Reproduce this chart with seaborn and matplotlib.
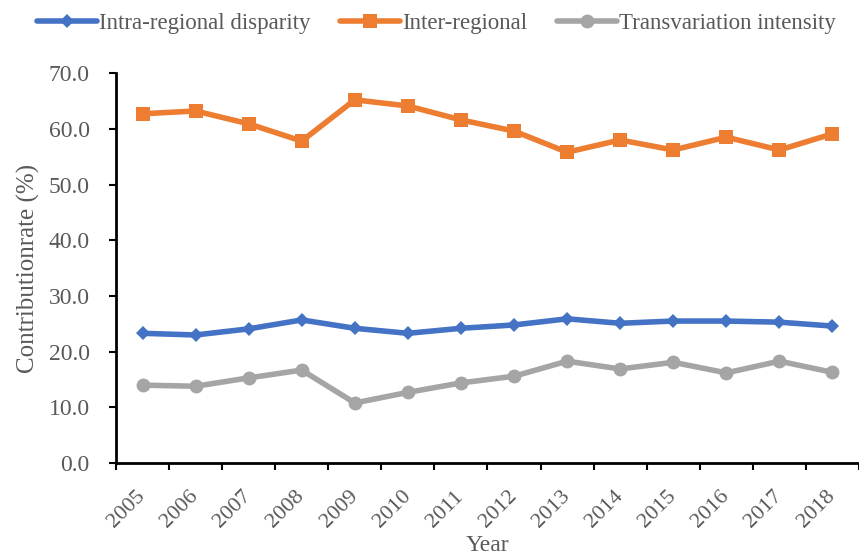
import matplotlib
matplotlib.use("Agg")
import matplotlib.pyplot as plt
import matplotlib.transforms as mtransforms
import seaborn as sns
import pandas as pd
import numpy as np

years = [2005, 2006, 2007, 2008, 2009, 2010, 2011, 2012, 2013, 2014, 2015, 2016, 2017, 2018]
intra = [23.3, 23.0, 24.1, 25.7, 24.2, 23.3, 24.2, 24.8, 25.9, 25.1, 25.5, 25.5, 25.3, 24.6]
inter = [62.7, 63.2, 60.9, 57.8, 65.2, 64.1, 61.6, 59.6, 55.8, 58.0, 56.2, 58.5, 56.2, 59.1]
trans = [14.0, 13.8, 15.3, 16.7, 10.8, 12.7, 14.4, 15.6, 18.3, 16.9, 18.1, 16.2, 18.3, 16.3]
series_names = ["Intra-regional disparity", "Inter-regional", "Transvariation intensity"]
yticks = [0, 10, 20, 30, 40, 50, 60, 70]

sns.set_style("white")
plt.rcParams['font.family'] = ['Liberation Serif', 'DejaVu Serif']

idx = list(range(len(years)))
df = pd.DataFrame({
    "idx": idx * 3,
    "value": intra + inter + trans,
    "series": [series_names[0]] * len(years) + [series_names[1]] * len(years) + [series_names[2]] * len(years),
})

fig = plt.figure(figsize=(8.59, 5.58), dpi=100)
ax = fig.add_axes([0.135, 0.170, 0.865, 0.699])

colors = ["#4472C4", "#ED7D31", "#A5A5A5"]
markers = ["D", "s", "o"]
msizes = [7, 10, 10]
for name, c, m, ms in zip(series_names, colors, markers, msizes):
    sub = df[df["series"] == name]
    sns.lineplot(data=sub, x="idx", y="value", ax=ax, color=c, linewidth=4,
                 marker=m, markersize=ms, markeredgewidth=0, label=name)

txt = "#595959"
ax.set_xlim(-0.5, len(years) - 0.5)
ax.set_ylim(0, 70)
ax.set_yticks(yticks)
ax.set_yticklabels([f"{v:.1f}" for v in yticks], fontsize=17, color=txt)
ax.set_xticks(idx)
ax.set_xticklabels([str(y) for y in years], rotation=45, fontsize=16, color=txt,
                   ha="right", va="center", rotation_mode="anchor")
offset = mtransforms.ScaledTranslation(-8 / 100, -4 / 100, fig.dpi_scale_trans)
for lab in ax.get_xticklabels():
    lab.set_transform(lab.get_transform() + offset)
ax.tick_params(axis="x", length=0, pad=22)
ax.tick_params(axis="y", length=5, width=1.5, direction="out", color="black", left=True, pad=14)
ax.set_xticks(np.arange(-0.5, len(years) + 0.5, 1), minor=True)
ax.tick_params(axis="x", which="minor", length=5, width=1.5, direction="out", color="black", bottom=True)

for s in ["top", "right"]:
    ax.spines[s].set_visible(False)
for s in ["left", "bottom"]:
    ax.spines[s].set_color("black")
    ax.spines[s].set_linewidth(2)

ax.set_xlabel("Year", fontsize=17, color=txt, labelpad=2)
ax.set_ylabel("Contributionrate (%)", fontsize=18, color=txt, labelpad=6)

ax.get_legend().remove()
handles, labels = ax.get_legend_handles_labels()
leg = fig.legend(handles, labels, loc="center", bbox_to_anchor=(0.508, 0.958), ncol=3, frameon=False,
                 fontsize=16.5, handlelength=2.6, columnspacing=1.3, handletextpad=0.1)
for t in leg.get_texts():
    t.set_color(txt)

fig.savefig("out.png", dpi=100)
